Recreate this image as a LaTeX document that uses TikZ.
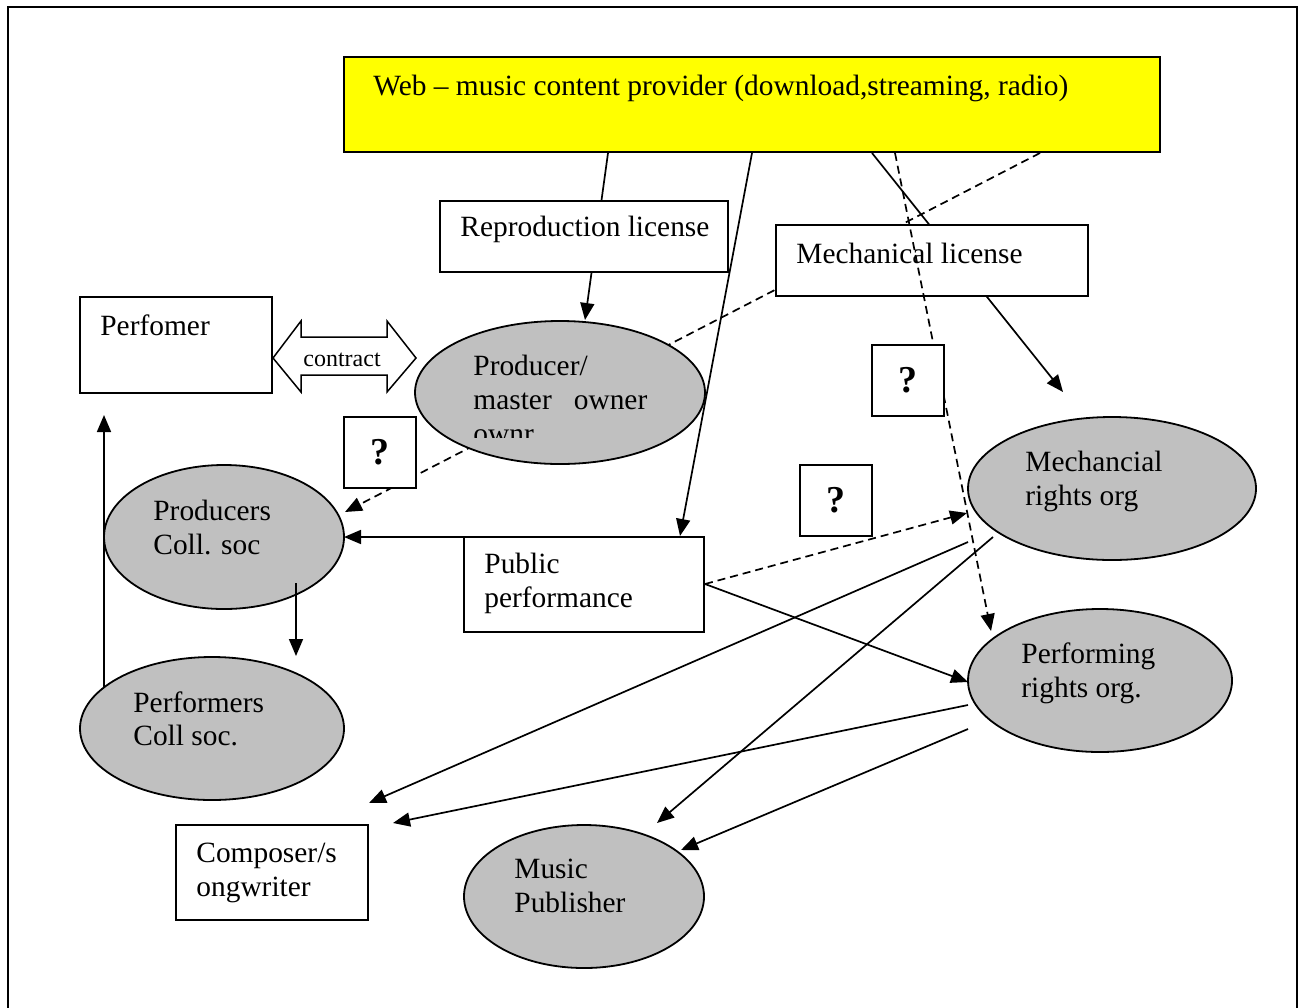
\documentclass[tikz,border=0pt]{standalone}
\usepackage{fontspec}
\setmainfont{Liberation Serif}
\usetikzlibrary{shapes.geometric,arrows.meta}

\definecolor{silver}{HTML}{C0C0C0}
\definecolor{webyellow}{HTML}{FFFF00}

\tikzset{
  box/.style={draw, fill=white, line width=1pt, rectangle, anchor=north west,
              inner sep=0pt, outer sep=0pt},
  oval/.style={draw, fill=silver, line width=0.9pt, ellipse, inner sep=0pt, outer sep=0pt},
  lbl/.style={anchor=base west, inner sep=0pt, font=\fontsize{14.7}{17}\selectfont},
  small/.style={anchor=base west, inner sep=0pt, font=\fontsize{12}{14}\selectfont},
  qbox/.style={box, minimum width=36pt, minimum height=35.5pt,
               font=\fontsize{19}{19}\selectfont\bfseries},
  link/.style={line width=0.85pt, -{Triangle[length=8.5pt,width=7pt]}},
  dlink/.style={link, dash pattern=on 4pt off 2.5pt},
  frame/.style={line width=1.2pt},
}

\begin{document}
\begin{tikzpicture}[x=0.5pt,y=-0.5pt]
\useasboundingbox (0,0) rectangle (1304,1007);
\fill[white] (0,0) rectangle (1304,1007);

% page frame
\draw[frame] (8,1010) -- (8,7) -- (1297,7) -- (1297,1010);

% content provider
\node[box, fill=webyellow, minimum width=408pt, minimum height=47.5pt] (web) at (344,57) {};
\node[lbl] (webtxt) at (373,95) {Web -- music content provider (download,streaming, radio)};

% end points of the connectors
\coordinate (w1) at (608,153);
\coordinate (w2) at (752,153);
\coordinate (w3) at (872,153);
\coordinate (w4) at (895,153);
\coordinate (w5) at (1040,153);
\coordinate (tProd) at (585,320);
\coordinate (tPub) at (680,536);
\coordinate (tMech) at (1063,392);
\coordinate (tPerf) at (991,631);
\coordinate (tSoc) at (345,512);

% dashed line running under the licence box and the producer oval
\draw[dlink] (w5) -- (tSoc);

% lines passing under the licence boxes
\draw[link] (w1) -- (tProd);
\draw[link] (w3) -- (tMech);

% licence boxes
\node[box, minimum width=144pt, minimum height=35.5pt] (repro) at (440,201) {};
\node[lbl] (reprotxt) at (460,236) {Reproduction license};
\node[box, minimum width=156pt, minimum height=35.5pt] (mechlic) at (776,225) {};
\node[lbl] (mechlictxt) at (796,263) {Mechanical license};

% dashed line over the mechanical licence box
\draw[dlink] (w4) -- (tPerf);

% performer and contract
\node[box, minimum width=96pt, minimum height=48pt] (perfomer) at (80,297) {};
\node[lbl] (perfomertxt) at (100,335) {Perfomer};
\draw[line width=0.75pt, fill=white]
  (273,358) -- (301,321) -- (301,337) -- (387,337) -- (387,321) -- (416,358)
  -- (387,392) -- (387,375) -- (301,375) -- (301,392) -- cycle;
\node[small] (contract) at (303,366) {contract};

% producer / master owner
\node[oval, minimum width=145pt, minimum height=71.5pt] (producer) at (560,392.5) {};
\node[lbl] (prodtxt1) at (473,375) {Producer/};
\node[lbl] (prodtxt2) at (473,409) {master\ \ \ owner};
\begin{scope}
  \clip (420,300) rectangle (700,437);
  \node[lbl] (prodtxt3) at (473,443) {ownr};
\end{scope}

\draw[link] (w2) -- (tPub);

% question boxes
\node[qbox] (q1) at (344,417) {?};
\node[qbox] (q2) at (872,345) {?};
\node[qbox] (q3) at (800,465) {?};

% collecting societies
\node[oval, minimum width=120pt, minimum height=72pt] (prodsoc) at (224,537) {};
\node[lbl] (prodsoctxt1) at (153,520) {Producers};
\node[lbl] (prodsoctxt2) at (153,554) {Coll. soc};
\node[oval, minimum width=132pt, minimum height=71.5pt] (perfsoc) at (212,728.5) {};
\node[lbl] (perfsoctxt1) at (133,712) {Performers};
\node[lbl] (perfsoctxt2) at (133,745) {Coll soc.};

% public performance
\node[box, minimum width=120pt, minimum height=47.5pt] (pubperf) at (464,537) {};
\node[lbl] (pubtxt1) at (484,573) {Public};
\node[lbl] (pubtxt2) at (484,607) {performance};

% rights organisations
\node[oval, minimum width=144pt, minimum height=71.5pt] (mechorg) at (1112,488.5) {};
\node[lbl] (mechorgtxt1) at (1025,471) {Mechancial};
\node[lbl] (mechorgtxt2) at (1025,505) {rights org};
\node[oval, minimum width=132pt, minimum height=71.5pt] (perforg) at (1100,680.5) {};
\node[lbl] (perforgtxt1) at (1021,663) {Performing};
\node[lbl] (perforgtxt2) at (1021,697) {rights org.};

% composer and publisher
\node[box, minimum width=96pt, minimum height=47.5pt] (composer) at (176,825) {};
\node[lbl] (comptxt1) at (196,862) {Composer/s};
\node[lbl] (comptxt2) at (196,896) {ongwriter};
\node[oval, minimum width=120pt, minimum height=71.5pt] (publisher) at (584,896.5) {};
\node[lbl] (pubstxt1) at (514,878) {Music};
\node[lbl] (pubstxt2) at (514,912) {Publisher};

% remaining connectors
\coordinate (sA) at (296,583);
\coordinate (tA) at (296,656);
\coordinate (sB) at (104,687);
\coordinate (tB) at (104,415);
\coordinate (tC) at (967,513);
\coordinate (tD) at (968,682);
\coordinate (sE) at (968,542);
\coordinate (tE) at (369,803);
\coordinate (sF) at (993,537);
\coordinate (tF) at (657,823);
\coordinate (sG) at (968,705);
\coordinate (tG) at (393,823);
\coordinate (sH) at (968,729);
\coordinate (tH) at (681,850);
\coordinate (pubR) at (705,584);

\draw[link] (pubperf.north west) -- (prodsoc.east);
\draw[link] (sA) -- (tA);
\draw[link] (sB) -- (tB);
\draw[dlink] (pubR) -- (tC);
\draw[link] (pubR) -- (tD);
\draw[link] (sE) -- (tE);
\draw[link] (sF) -- (tF);
\draw[link] (sG) -- (tG);
\draw[link] (sH) -- (tH);
\end{tikzpicture}
\end{document}
